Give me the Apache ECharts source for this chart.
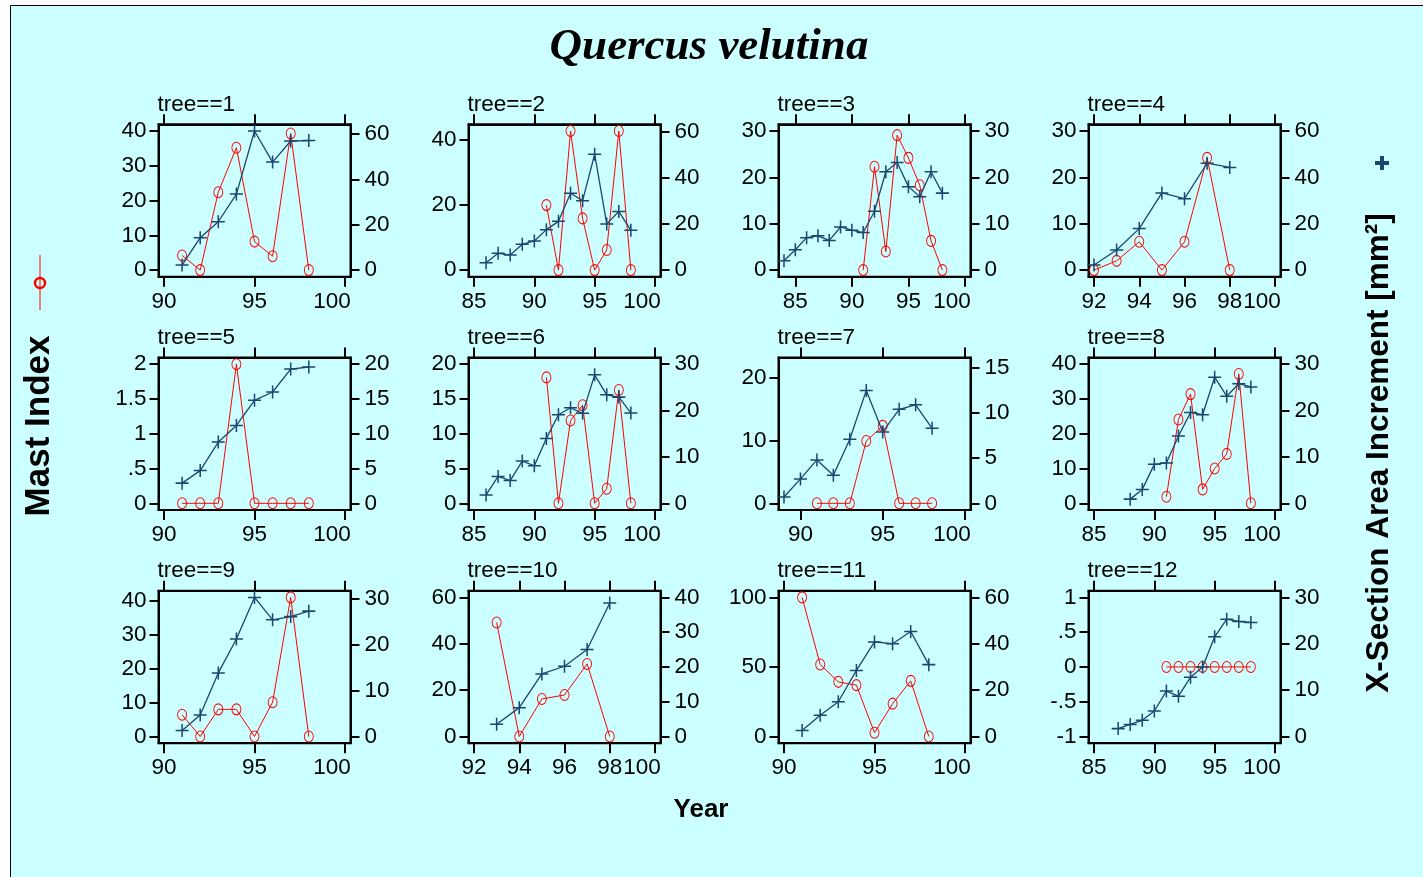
<!DOCTYPE html>
<html>
<head>
<meta charset="utf-8">
<script src="https://cdn.jsdelivr.net/npm/echarts@6/dist/echarts.min.js"></script>
<style>
  html, body { margin: 0; padding: 0; background: #ffffff; }
  #chart { width: 1423px; height: 877px; }
</style>
</head>
<body>
<div id="chart"></div>
<script>
// ---- Year sequences ----
const yrs84 = [84, 85, 86, 87, 88, 89, 90, 91, 92, 93, 94, 95, 96, 97, 98];
const yrs86 = [86, 87, 88, 89, 90, 91, 92, 93, 94, 95, 96, 97, 98];
const yrs87 = [87, 88, 89, 90, 91, 92, 93, 94, 95, 96, 97, 98];
const yrs88 = [88, 89, 90, 91, 92, 93, 94, 95, 96, 97, 98];
const yrs89 = [89, 90, 91, 92, 93, 94, 95, 96, 97, 98];
const yrs91 = [91, 92, 93, 94, 95, 96, 97, 98];
const yrs92 = [92, 93, 94, 95, 96, 97, 98];
const yrs93 = [93, 94, 95, 96, 97, 98];

// ---- Mast index (left axis, red) ----
const mast1  = [4.2, 0, 22.4, 35.2, 8.2, 4.0, 39.3, 0];
const mast2  = [20.0, 0, 42.8, 15.9, 0, 6.2, 42.8, 0];
const mast3  = [0, 22.3, 4.0, 29.1, 24.2, 18.3, 6.3, 0];
const mast4  = [0, 2.0, 6.1, 0, 6.1, 24.2, 0];
const mast5  = [0, 0, 0, 2.0, 0, 0, 0, 0];
const mast6  = [18.1, 0, 11.9, 14.1, 0, 2.1, 16.3, 0];
const mast7  = [0, 0, 0, 9.9, 12.3, 0, 0, 0];
const mast8  = [1.9, 24.1, 31.4, 4.0, 10.0, 14.2, 37.2, 0];
const mast9  = [6.4, 0, 8.0, 8.0, 0, 10.1, 41.0, 0];
const mast10 = [49.2, 0, 16.2, 17.9, 31.3, 0];
const mast11 = [100, 51.8, 39.3, 36.9, 2.7, 23.6, 40.0, 0];
const mast12 = [0, 0, 0, 0, 0, 0, 0, 0];

// ---- Cross-section area increment, mm² (right axis, blue) ----
const area1  = [2.2, 14.3, 21.3, 33.5, 61.3, 47.6, 56.9, 57.1];
const area2  = [3.2, 7.3, 6.6, 11.2, 12.7, 17.6, 21.2, 33.4, 30.2, 50.4, 20.1, 25.5, 17.3];
const area3  = [2.0, 4.4, 7.0, 7.4, 6.4, 9.3, 8.6, 8.1, 12.7, 21.2, 23.2, 18.0, 15.8, 21.2, 16.6];
const area4  = [2.2, 8.7, 17.9, 33.3, 30.8, 46.1, 44.3];
const area5  = [2.9, 4.7, 8.8, 11.2, 14.8, 16.0, 19.3, 19.6];
const area6  = [1.8, 5.8, 4.9, 9.1, 8.1, 14.0, 19.1, 20.6, 19.4, 27.7, 23.4, 22.9, 19.5];
const area7  = [0.7, 2.7, 4.8, 3.1, 7.1, 12.5, 7.9, 10.4, 10.9, 8.3];
const area8  = [0.9, 3.0, 8.4, 8.7, 14.5, 19.6, 19.1, 27.2, 23.1, 25.8, 25.1];
const area9  = [1.3, 4.7, 13.9, 21.3, 30.4, 25.5, 26.2, 27.4];
const area10 = [3.5, 8.3, 18.0, 20.2, 25.0, 38.4];
const area11 = [2.6, 9.2, 15.0, 28.5, 40.8, 40.0, 45.3, 31.0];
const area12 = [1.7, 2.6, 3.5, 5.5, 9.8, 8.7, 12.8, 15.0, 21.5, 25.3, 24.8, 24.6];

const treeNames = ['tree==1', 'tree==2', 'tree==3', 'tree==4', 'tree==5', 'tree==6',
                   'tree==7', 'tree==8', 'tree==9', 'tree==10', 'tree==11', 'tree==12'];
const mastYears = [yrs91, yrs91, yrs91, yrs92, yrs91, yrs91, yrs91, yrs91, yrs91, yrs93, yrs91, yrs91];
const mastValues = [mast1, mast2, mast3, mast4, mast5, mast6, mast7, mast8, mast9, mast10, mast11, mast12];
const areaYears = [yrs91, yrs86, yrs84, yrs92, yrs91, yrs86, yrs89, yrs88, yrs91, yrs93, yrs91, yrs87];
const areaValues = [area1, area2, area3, area4, area5, area6, area7, area8, area9, area10, area11, area12];

// ---- Tick labels ----
const yearTicks = [
  [90, 95, 100], [85, 90, 95, 100], [85, 90, 95, 100], [92, 94, 96, 98, 100],
  [90, 95, 100], [85, 90, 95, 100], [90, 95, 100], [85, 90, 95, 100],
  [90, 95, 100], [92, 94, 96, 98, 100], [90, 95, 100], [85, 90, 95, 100]
];
const mastTicks = [
  [0, 10, 20, 30, 40], [0, 20, 40], [0, 10, 20, 30], [0, 10, 20, 30],
  [0, 0.5, 1, 1.5, 2], [0, 5, 10, 15, 20], [0, 10, 20], [0, 10, 20, 30, 40],
  [0, 10, 20, 30, 40], [0, 20, 40, 60], [0, 50, 100], [-1, -0.5, 0, 0.5, 1]
];
const areaTicks = [
  [0, 20, 40, 60], [0, 20, 40, 60], [0, 10, 20, 30], [0, 20, 40, 60],
  [0, 5, 10, 15, 20], [0, 10, 20, 30], [0, 5, 10, 15], [0, 10, 20, 30],
  [0, 10, 20, 30], [0, 10, 20, 30, 40], [0, 20, 40, 60], [0, 10, 20, 30]
];

// ---- Axis extents (before the plot-region inset) ----
const yearStart = [90, 85, 84, 92, 90, 85, 89, 85, 90, 92, 90, 85];
const yearEnd   = [100, 100, 100, 100, 100, 100, 100, 100, 100, 100, 100, 100];
const mastLow   = [0, 0, 0, 0, 0, 0, 0, 0, 0, 0, 0, -1];
const mastHigh  = [40, 42.8, 30, 30, 2, 20, 22.1, 40, 41, 60, 100, 1];
const areaLow   = [0, 0, 0, 0, 0, 0, 0, 0, 0, 0, 0, 0];
const areaHigh  = [61.3, 60.5, 30, 60, 20, 30, 15.4, 30, 30.4, 40, 60, 30];

// ---- Layout ----
const BOX_LEFT = 158.5, BOX_TOP = 124.3, COL_STEP = 310, ROW_STEP = 233.2;
const BOX_W = 192, BOX_H = 152.5;
const INSET_X = 5.5, INSET_Y = 6.7;
const SANS = '"Liberation Sans", Arial, sans-serif';
const SERIF = '"Liberation Serif", "Times New Roman", serif';
const RED = '#ff0000';
const NAVY = '#1a476f';
const BG = '#ccffff';
const PLUS = 'path://M10.6,0H13.4V10.6H24V13.4H13.4V24H10.6V13.4H0V10.6H10.6Z';
const LABEL_SIZE = 22.5;

function inset(lo, hi, px, margin) {
  const s = (hi - lo) / (px - 2 * margin);
  return [lo - margin * s, hi + margin * s];
}
function stataNum(v) {
  return String(v).replace(/^(-?)0\./, '$1.');
}
// The last year label sits pulled in towards the plot's right edge.
function yearLabel(v, idx, ticks) {
  return v === ticks[ticks.length - 1] ? '{last|' + stataNum(v) + '}' : stataNum(v);
}

const grids = [], xAxes = [], yAxes = [], series = [], graphics = [];

graphics.push({
  type: 'rect', z: -10, silent: true,
  shape: { x: 10.5, y: 5.5, width: 1440, height: 900 },
  style: { fill: BG, stroke: '#000', lineWidth: 1 }
});

for (let i = 0; i < 12; i++) {
  const c = i % 4, r = Math.floor(i / 4);
  const left = BOX_LEFT + c * COL_STEP;
  const top = BOX_TOP + r * ROW_STEP;
  grids.push({
    left: left, top: top, width: BOX_W, height: BOX_H,
    show: true, borderColor: '#000', borderWidth: 2, backgroundColor: 'transparent'
  });

  const [xMin, xMax] = inset(yearStart[i], yearEnd[i], BOX_W, INSET_X);
  const [lMin, lMax] = inset(mastLow[i], mastHigh[i], BOX_H, INSET_Y);
  const [rMin, rMax] = inset(areaLow[i], areaHigh[i], BOX_H, INSET_Y);

  const tickLine = { color: '#000', width: 2 };
  const axisLine = { show: true, onZero: false, lineStyle: { color: '#000', width: 2 } };
  const labelStyle = { fontSize: LABEL_SIZE, color: '#000', fontFamily: SANS,
                       showMinLabel: true, showMaxLabel: true, hideOverlap: false };
  const ticksX = yearTicks[i];

  xAxes.push({
    type: 'value', gridIndex: i, position: 'bottom', min: xMin, max: xMax,
    axisLine: axisLine,
    axisTick: { show: true, length: 10, customValues: ticksX, lineStyle: tickLine },
    axisLabel: Object.assign({
      customValues: ticksX, margin: 13,
      formatter: (v, idx) => yearLabel(v, idx, ticksX),
      rich: { last: { fontSize: LABEL_SIZE, fontFamily: SANS, color: '#000', padding: [0, 26, 0, 0] } }
    }, labelStyle),
    splitLine: { show: false }
  });
  xAxes.push({
    type: 'value', gridIndex: i, position: 'top', min: xMin, max: xMax,
    axisLine: axisLine,
    axisTick: { show: true, length: 10, customValues: ticksX, lineStyle: tickLine },
    axisLabel: { show: false },
    splitLine: { show: false }
  });
  yAxes.push({
    type: 'value', gridIndex: i, position: 'left', min: lMin, max: lMax,
    axisLine: axisLine,
    axisTick: { show: true, length: 9, customValues: mastTicks[i], lineStyle: tickLine },
    axisLabel: Object.assign({ customValues: mastTicks[i], margin: 12, formatter: stataNum }, labelStyle),
    splitLine: { show: false }
  });
  yAxes.push({
    type: 'value', gridIndex: i, position: 'right', min: rMin, max: rMax,
    axisLine: axisLine,
    axisTick: { show: true, length: 9, customValues: areaTicks[i], lineStyle: tickLine },
    axisLabel: Object.assign({ customValues: areaTicks[i], margin: 14, formatter: stataNum }, labelStyle),
    splitLine: { show: false }
  });

  series.push({
    type: 'line', name: 'Mast Index', xAxisIndex: 2 * i, yAxisIndex: 2 * i,
    data: mastYears[i].map((y, k) => [y, mastValues[i][k]]),
    symbol: 'circle', symbolSize: [9, 11], showAllSymbol: true,
    lineStyle: { color: RED, width: 1 },
    itemStyle: { color: 'rgba(0,0,0,0)', borderColor: RED, borderWidth: 1 },
    emphasis: { disabled: true }, z: 3
  });
  series.push({
    type: 'line', name: 'X-Section Area Increment', xAxisIndex: 2 * i, yAxisIndex: 2 * i + 1,
    data: areaYears[i].map((y, k) => [y, areaValues[i][k]]),
    symbol: PLUS, symbolSize: 13, showAllSymbol: true,
    lineStyle: { color: NAVY, width: 1.3 },
    itemStyle: { color: NAVY },
    emphasis: { disabled: true }, z: 4
  });

  graphics.push({
    type: 'text', left: left - 1, top: top - 31,
    style: { text: treeNames[i], font: LABEL_SIZE + 'px ' + SANS, fill: '#000' }
  });
}

// Titles and axis captions
graphics.push({
  type: 'text', x: 709, y: 47,
  style: { text: 'Quercus velutina', font: 'italic bold 45px ' + SERIF, fill: '#000',
           textAlign: 'center', textVerticalAlign: 'middle' }
});
graphics.push({
  type: 'text', x: 701, y: 810,
  style: { text: 'Year', font: 'bold 26px ' + SANS, fill: '#000',
           textAlign: 'center', textVerticalAlign: 'middle' }
});
graphics.push({
  type: 'text', x: 39, y: 426, rotation: Math.PI / 2,
  style: { text: 'Mast Index', font: 'bold 35px ' + SANS, fill: '#000',
           textAlign: 'center', textVerticalAlign: 'middle' }
});
graphics.push({
  type: 'text', x: 1379, y: 453, rotation: Math.PI / 2,
  style: { text: 'X-Section Area Increment [mm²]', font: 'bold 31.5px ' + SANS, fill: '#000',
           textAlign: 'center', textVerticalAlign: 'middle' }
});

// Legend keys
graphics.push({
  type: 'line', shape: { x1: 40, y1: 255, x2: 40, y2: 310 },
  style: { stroke: RED, lineWidth: 1 }
});
graphics.push({
  type: 'circle', shape: { cx: 40, cy: 283, r: 5 },
  style: { fill: 'rgba(0,0,0,0)', stroke: RED, lineWidth: 2.5 }
});
graphics.push({
  type: 'line', shape: { x1: 1375, y1: 163, x2: 1389, y2: 163 },
  style: { stroke: NAVY, lineWidth: 4 }
});
graphics.push({
  type: 'line', shape: { x1: 1382, y1: 156, x2: 1382, y2: 170 },
  style: { stroke: NAVY, lineWidth: 4 }
});

const chart = echarts.init(document.getElementById('chart'), null, { renderer: 'canvas' });
chart.setOption({
  backgroundColor: '#ffffff',
  animation: false,
  grid: grids,
  xAxis: xAxes,
  yAxis: yAxes,
  series: series,
  graphic: graphics
});
</script>
</body>
</html>
